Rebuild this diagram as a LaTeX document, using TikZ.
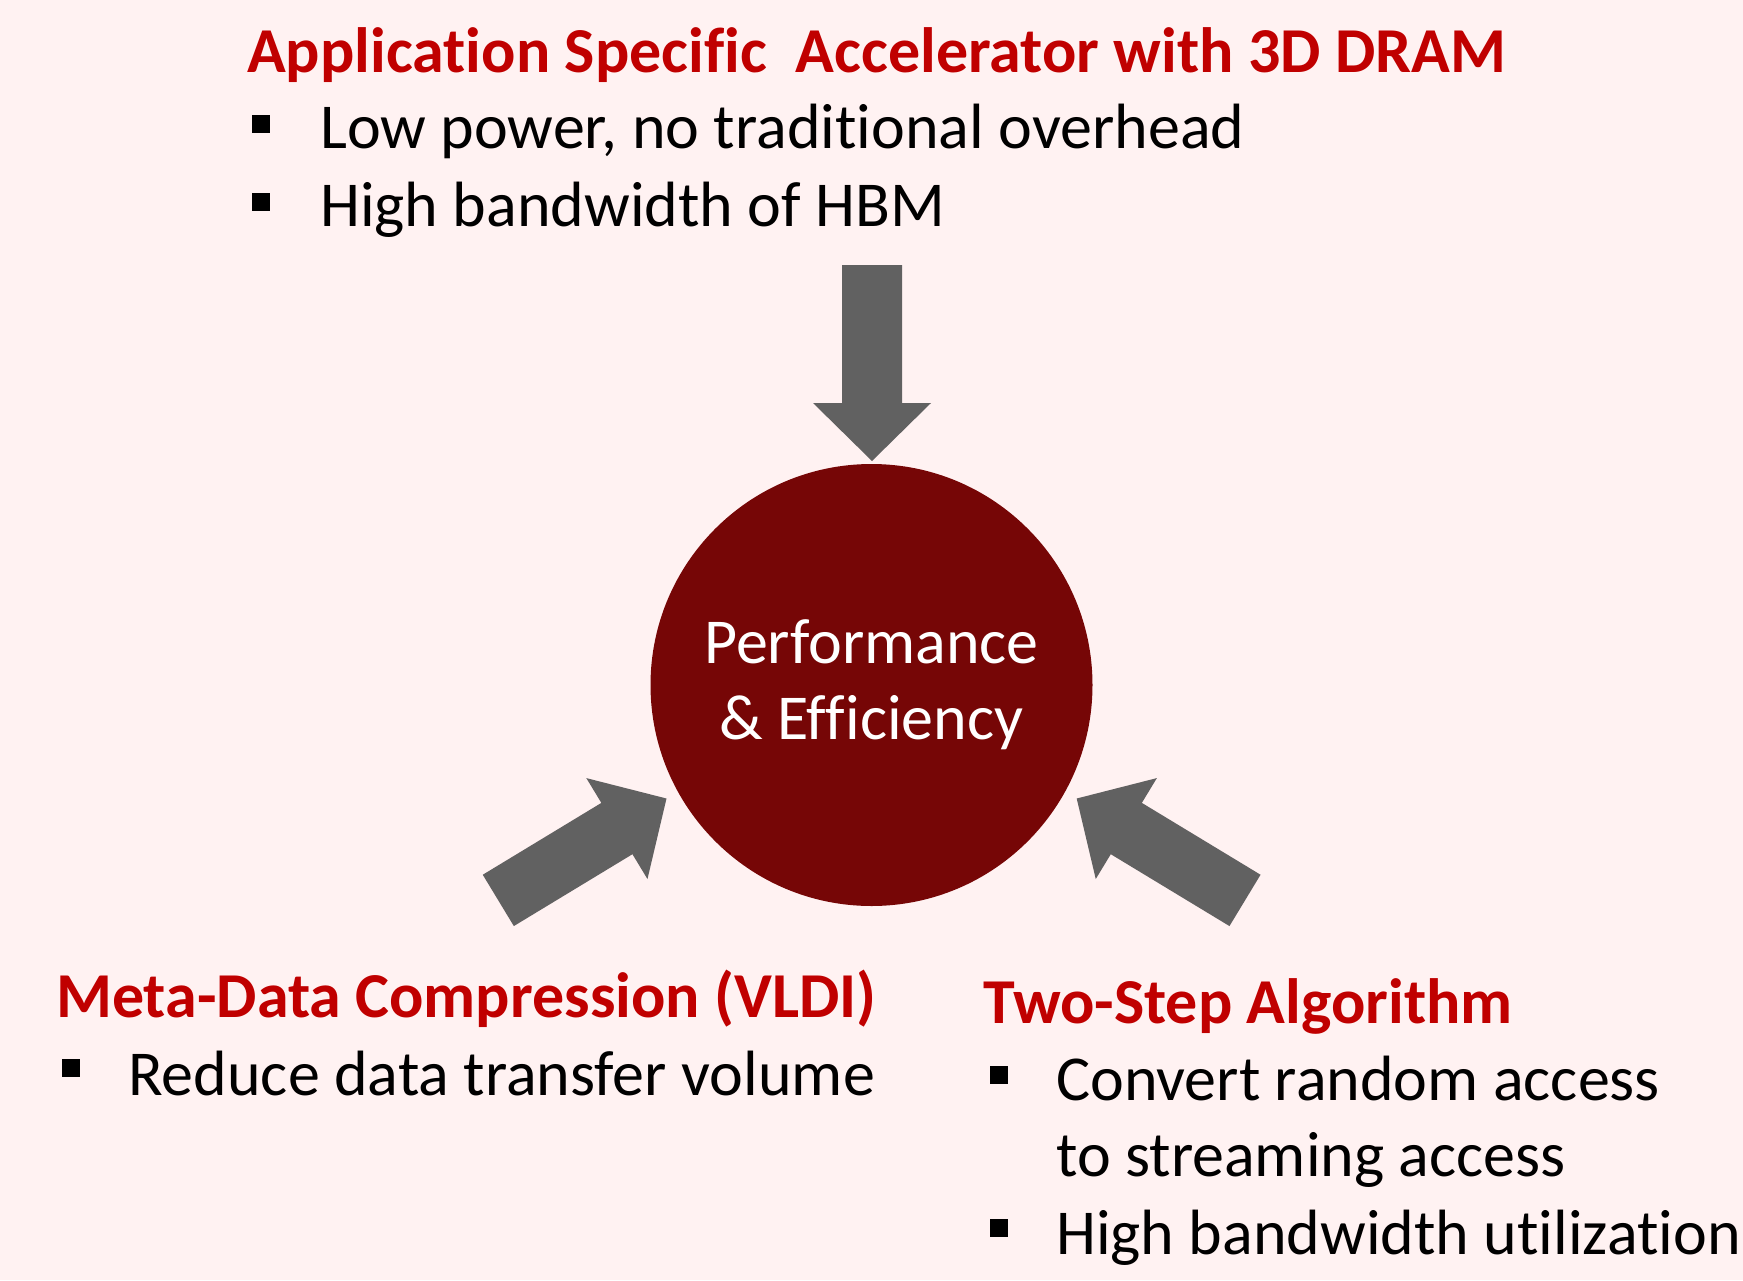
\documentclass[tikz,border=0pt]{standalone}
\usepackage{fontspec}
\setmainfont[Ligatures={NoCommon,NoDiscretionary,NoRare}]{Carlito}
\usetikzlibrary{calc}

\definecolor{bgpink}{HTML}{FFF2F2}
\definecolor{headred}{HTML}{C00000}
\definecolor{hubred}{HTML}{760606}
\definecolor{arrowgray}{HTML}{616161}

% block arrow from tail coordinate #2 to tip coordinate #1
\newcommand\blockarrow[2]{%
  \fill[arrowgray] (#1)
    -- ($(#1)!58pt!(#2)!59pt!90:(#2)$)
    -- ($(#1)!58pt!(#2)!30pt!90:(#2)$)
    -- ($(#2)!30pt!-90:(#1)$)
    -- ($(#2)!30pt!90:(#1)$)
    -- ($(#1)!58pt!(#2)!30pt!-90:(#2)$)
    -- ($(#1)!58pt!(#2)!59pt!-90:(#2)$)
    -- cycle;}

\begin{document}
\begin{tikzpicture}[x=1pt,y=-1pt,
  head/.style={anchor=base west, inner sep=0pt, text=headred,
    font=\fontsize{64}{76}\selectfont\bfseries},
  item/.style={anchor=base west, inner sep=0pt, text=black,
    font=\fontsize{64}{76}\selectfont},
  bullet/.style={fill=black, inner sep=0pt, minimum size=18pt},
  hub/.style={circle, fill=hubred, minimum size=442pt, inner sep=0pt,
    text=white, align=center, font=\fontsize{64}{75.6}\selectfont}]

% page
\fill[bgpink] (0,0) rectangle (1743,1280);
\useasboundingbox (0,0) rectangle (1743,1280);

% central goal
\node[hub] (hub) at (871.5,685) {Performance\\\& Efficiency};

% top group
\node[head] (accT) at (247,72) {Application Specific\ \ Accelerator with 3D DRAM};
\node[bullet] (accB1) at (261,124) {};
\node[item] (accI1) at (320,148) {Low power, no traditional overhead};
\node[bullet] (accB2) at (261,202) {};
\node[item] (accI2) at (320,226) {High bandwidth of HBM};

% bottom-left group
\node[head] (vldT) at (56,1017) {Meta-Data Compression (VLDI)};
\node[bullet] (vldB1) at (71,1068) {};
\node[item] (vldI1) at (128,1095) {Reduce data transfer volume};

% bottom-right group
\node[head] (algT) at (983,1023) {Two-Step Algorithm};
\node[bullet] (algB1) at (999,1075) {};
\node[item] (algI1) at (1056,1100) {Convert random access};
\node[item] (algI1b) at (1056,1176) {to streaming access};
\node[bullet] (algB2) at (999,1228) {};
\node[item] (algI2) at (1056,1254) {High bandwidth utilization};

% block arrows pointing at the hub
\coordinate (topTip) at (872,461);
\coordinate (topTail) at (872,265);
\coordinate (leftTip) at (666.5,798.5);
\coordinate (leftTail) at (498.3,900.4);
\coordinate (rightTip) at (1076.7,798.5);
\coordinate (rightTail) at (1245,900.4);
\blockarrow{topTip}{topTail}
\blockarrow{leftTip}{leftTail}
\blockarrow{rightTip}{rightTail}
\end{tikzpicture}
\end{document}
